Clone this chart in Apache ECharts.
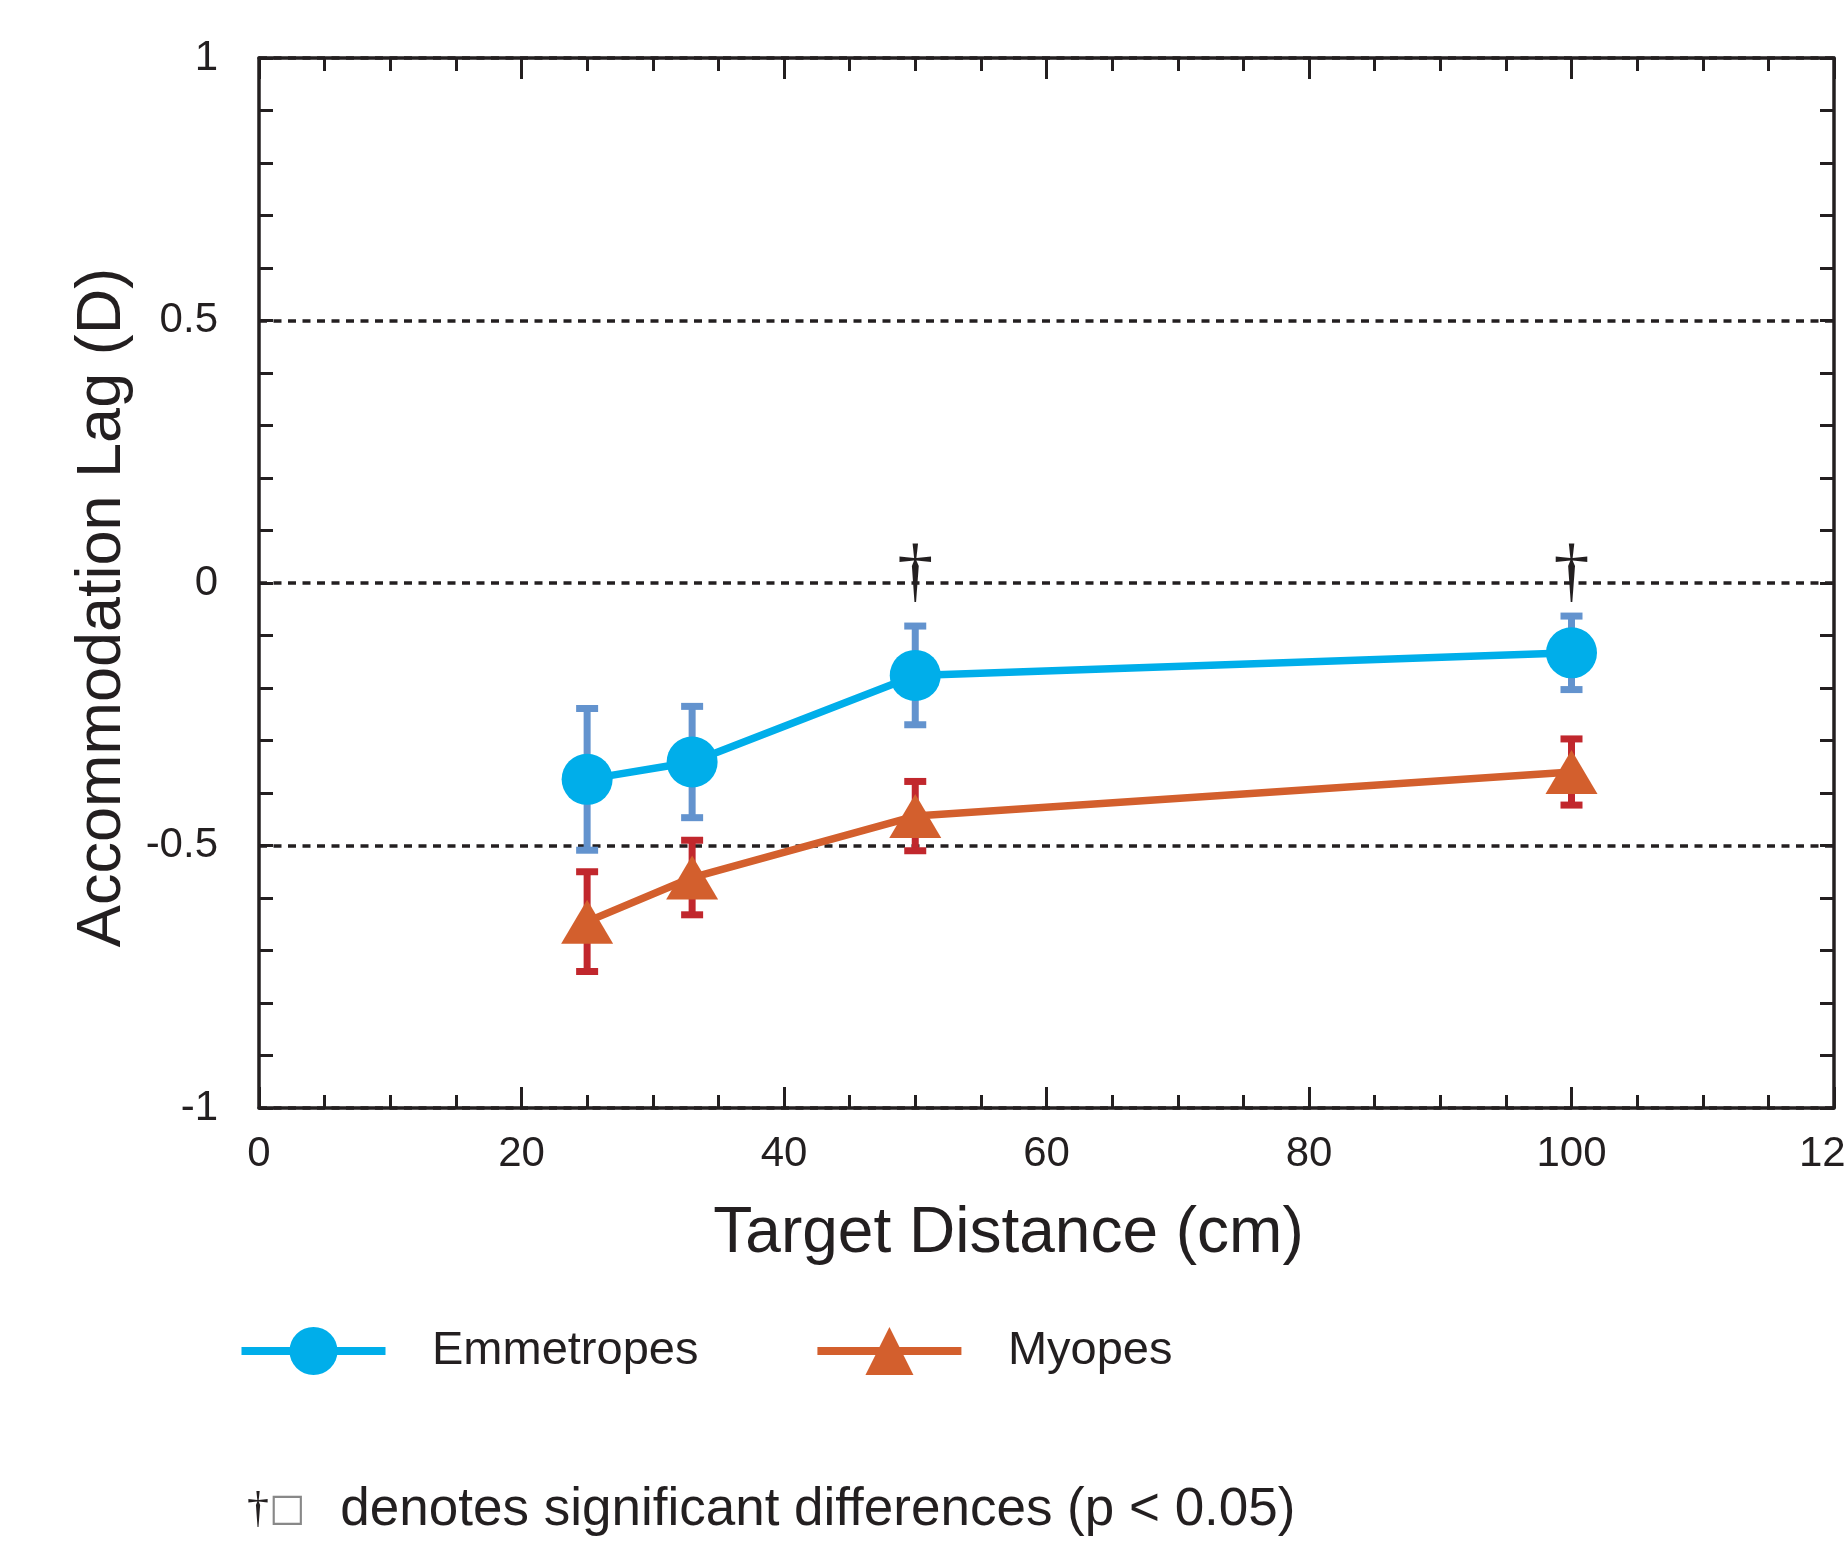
<!DOCTYPE html>
<html>
<head>
<meta charset="utf-8">
<title>Accommodation Lag vs Target Distance</title>
<script src="https://cdn.jsdelivr.net/npm/echarts@6/dist/echarts.min.js"></script>
<style>
  html, body { margin: 0; padding: 0; background: #fff; }
  #chart { width: 1845px; height: 1543px; }
</style>
</head>
<body>
<div id="chart"></div>
<script>
// target distance (cm)
const distances = [25, 33, 50, 100]
// accommodation lag (D): mean and error bar half length
const emmMean = [-0.374, -0.341, -0.176, -0.133]
const emmErr = [0.135, 0.106, 0.094, 0.070]
const myoMean = [-0.645, -0.561, -0.444, -0.360]
const myoErr = [0.095, 0.071, 0.066, 0.063]
// distances marked with a dagger (p < 0.05)
const sigDistances = [50, 100]

// axis ranges / tick steps
const xMin = 0, xMax = 120, xStep = 20
const yMin = -1, yMax = 1, yStep = 0.5

const ink = '#231f20'
const font = '"Liberation Sans", Arial, sans-serif'

const chart = echarts.init(document.getElementById('chart'))

// error bar drawn as stem + two caps
const errorBar = (color) => (params, api) => {
  const x = api.value(0)
  const hi = api.coord([x, api.value(2)])
  const lo = api.coord([x, api.value(1)])
  const capW = 22
  const capH = 7
  return {
    type: 'group',
    children: [
      { type: 'line', shape: { x1: hi[0], y1: hi[1], x2: lo[0], y2: lo[1] }, style: { stroke: color, lineWidth: 7 } },
      { type: 'rect', shape: { x: hi[0] - capW / 2, y: hi[1] - capH / 2, width: capW, height: capH }, style: { fill: color } },
      { type: 'rect', shape: { x: lo[0] - capW / 2, y: lo[1] - capH / 2, width: capW, height: capH }, style: { fill: color } }
    ]
  }
}

const xAxisBase = {
  type: 'value',
  min: xMin,
  max: xMax,
  interval: xStep,
  axisLine: { show: true, onZero: false, lineStyle: { color: ink, width: 3.5 } },
  axisTick: { show: true, inside: true, length: 21, lineStyle: { color: ink, width: 3 } },
  minorTick: { show: true, splitNumber: 4, length: 13, lineStyle: { color: ink, width: 3 } },
  splitLine: { show: false }
}

const yAxisBase = {
  type: 'value',
  min: yMin,
  max: yMax,
  interval: yStep,
  axisLine: { show: true, onZero: false, lineStyle: { color: ink, width: 3.5 } },
  axisTick: { show: true, inside: true, length: 14, lineStyle: { color: ink, width: 3 } },
  minorTick: { show: true, splitNumber: 5, length: 14, lineStyle: { color: ink, width: 3 } }
}

const option = {
  animation: false,
  backgroundColor: '#fff',
  grid: { left: 259, right: 11, top: 58, bottom: 435, containLabel: false, outerBoundsMode: 'none' },
  xAxis: [
    {
      ...xAxisBase,
      position: 'bottom',
      name: 'Target Distance (cm)',
      nameLocation: 'middle',
      nameGap: 94,
      nameTextStyle: { fontSize: 64, color: ink, fontFamily: font, padding: [0, 76, 0, 0] },
      axisLabel: { show: true, margin: 25, fontSize: 42, color: ink, fontFamily: font }
    },
    {
      ...xAxisBase,
      position: 'top',
      axisLabel: { show: false }
    }
  ],
  yAxis: [
    {
      ...yAxisBase,
      position: 'left',
      name: 'Accommodation Lag (D)',
      nameLocation: 'middle',
      nameGap: 125,
      nameTextStyle: { fontSize: 63, color: ink, fontFamily: font, padding: [0, 49, 0, 0] },
      axisLabel: { show: true, margin: 41, fontSize: 42, color: ink, fontFamily: font },
      splitLine: { show: true, lineStyle: { color: ink, width: 3.5, type: [8, 6.5] } }
    },
    {
      ...yAxisBase,
      position: 'right',
      axisLabel: { show: false },
      splitLine: { show: false }
    }
  ],
  legend: {
    data: ['Emmetropes', 'Myopes'],
    left: 237.5,
    top: 1327,
    padding: 0,
    itemWidth: 144,
    itemHeight: 60,
    itemGap: 115,
    lineStyle: { width: 8 },
    textStyle: { fontSize: 47, color: ink, fontFamily: font, padding: [0, 0, 0, 41.5] }
  },
  graphic: [
    {
      type: 'text',
      left: 247,
      top: 1484,
      style: {
        text: '{d|†}{b|□}{t|  denotes significant differences (p < 0.05)}',
        rich: {
          d: { fontSize: 44, fontFamily: '"Liberation Serif", serif', fill: ink },
          b: { fontSize: 38, fontFamily: '"DejaVu Sans", sans-serif', fill: '#888' },
          t: { fontSize: 53, fontFamily: font, fill: ink, padding: [0, 0, 0, 6] }
        }
      }
    }
  ],
  series: [
    {
      name: 'Emmetropes SE',
      type: 'custom',
      renderItem: errorBar('#6393ce'),
      encode: { x: 0, y: [1, 2] },
      data: distances.map((d, i) => [d, emmMean[i] - emmErr[i], emmMean[i] + emmErr[i]]),
      z: 2
    },
    {
      name: 'Myopes SE',
      type: 'custom',
      renderItem: errorBar('#c1272d'),
      encode: { x: 0, y: [1, 2] },
      data: distances.map((d, i) => [d, myoMean[i] - myoErr[i], myoMean[i] + myoErr[i]]),
      z: 2
    },
    {
      name: 'Emmetropes',
      type: 'line',
      data: distances.map((d, i) => [d, emmMean[i]]),
      symbol: 'circle',
      symbolSize: 51,
      color: '#00aeea',
      lineStyle: { width: 7.5, color: '#00aeea' },
      itemStyle: { color: '#00aeea' },
      z: 4,
      markPoint: {
        symbol: 'circle',
        symbolSize: 1,
        itemStyle: { color: 'rgba(0,0,0,0)' },
        label: {
          show: true,
          position: 'inside',
          formatter: '†',
          fontSize: 72,
          fontFamily: '"Liberation Serif", serif',
          color: ink
        },
        data: sigDistances.map(d => ({ coord: [d, 0.015] }))
      }
    },
    {
      name: 'Myopes',
      type: 'line',
      data: distances.map((d, i) => [d, myoMean[i]]),
      symbol: 'triangle',
      symbolSize: [52, 44],
      color: '#d35f2d',
      lineStyle: { width: 7.5, color: '#d35f2d' },
      itemStyle: { color: '#d35f2d' },
      z: 3
    }
  ]
}

chart.setOption(option)
window.addEventListener('resize', () => chart.resize())
</script>
</body>
</html>
